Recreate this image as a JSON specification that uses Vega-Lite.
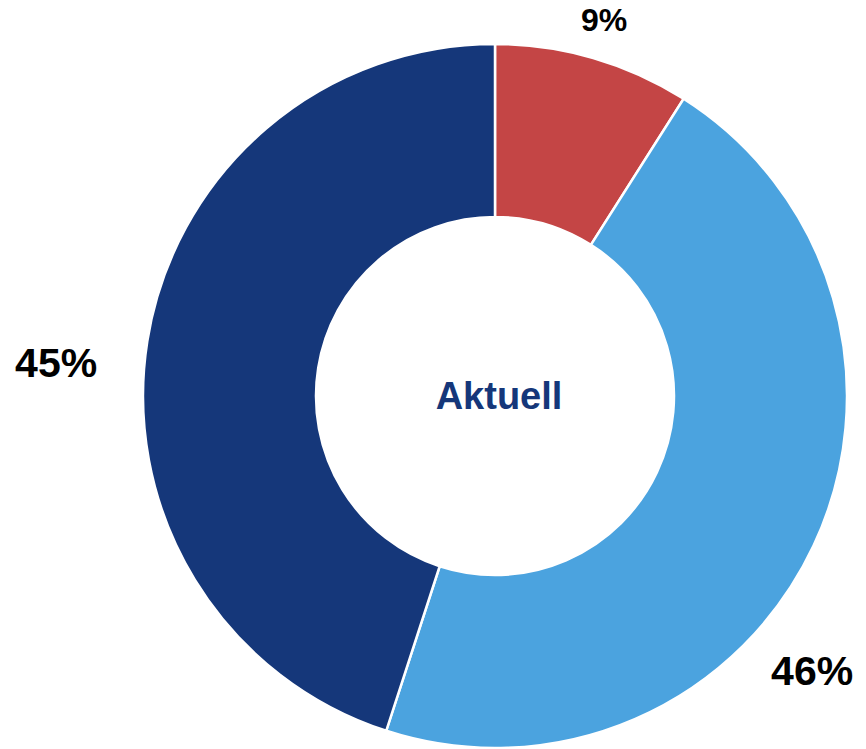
{
  "$schema": "https://vega.github.io/schema/vega-lite/v6.json",
  "autosize": {"type": "none"},
  "width": 742,
  "height": 706,
  "padding": {"left": 124, "top": 43, "right": 0, "bottom": 0},
  "background": "white",
  "config": {"view": {"stroke": null}, "font": "Liberation Sans"},
  "data": {
    "values": [
      {"segment": "A", "value": 9, "label": "9%"},
      {"segment": "B", "value": 46, "label": "46%"},
      {"segment": "C", "value": 45, "label": "45%"}
    ]
  },
  "encoding": {
    "theta": {"field": "value", "type": "quantitative", "stack": true},
    "order": {"field": "segment", "type": "ordinal"},
    "color": {
      "field": "segment",
      "type": "nominal",
      "scale": {"domain": ["A", "B", "C"], "range": ["#C44545", "#4BA3DF", "#15377A"]},
      "legend": null
    }
  },
  "layer": [
    {
      "mark": {"type": "arc", "outerRadius": 352, "innerRadius": 179, "stroke": "white", "strokeWidth": 2.5}
    },
    {
      "mark": {
        "type": "text",
        "fontWeight": "bold",
        "align": "center",
        "baseline": "middle",
        "radius": {"expr": "datum.value == 9 ? 391 : datum.value == 46 ? 421 : 440"},
        "thetaOffset": {"expr": "datum.value == 46 ? 0.278 : datum.value == 45 ? -0.086 : 0"}
      },
      "encoding": {
        "text": {"field": "label", "type": "nominal"},
        "detail": {"field": "segment", "type": "nominal"},
        "color": {"value": "black"},
        "size": {"condition": {"test": "datum.value < 10", "value": 32}, "value": 41}
      }
    },
    {
      "data": {"values": [{"title": "Aktuell"}]},
      "mark": {"type": "text", "fontWeight": "bold", "fontSize": 38, "color": "#15377A", "align": "center", "baseline": "middle", "dx": 4, "dy": 2},
      "encoding": {
        "text": {"field": "title", "type": "nominal"},
        "theta": null,
        "order": null,
        "color": null
      }
    }
  ]
}
